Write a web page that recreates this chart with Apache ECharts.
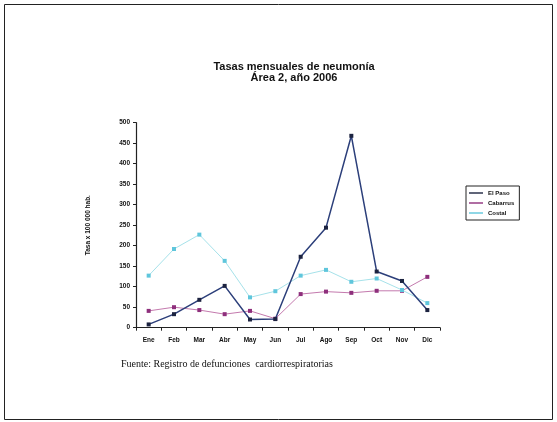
<!DOCTYPE html>
<html>
<head>
<meta charset="utf-8">
<script src="https://cdn.jsdelivr.net/npm/echarts@6/dist/echarts.min.js"></script>
<style>
  html, body { margin: 0; padding: 0; background: #fff; }
  #chart { width: 557px; height: 422px; }
</style>
</head>
<body>
<div id="chart"></div>
<script>
// Monthly pneumonia rates per 100 000 inhabitants
const months = ['Ene', 'Feb', 'Mar', 'Abr', 'May', 'Jun', 'Jul', 'Ago', 'Sep', 'Oct', 'Nov', 'Dic'];
const elPaso   = [8, 33, 68, 102, 20, 21, 173, 244, 468, 137, 114, 43];
const cabarrus = [41, 50, 43, 33, 41, 22, 82, 88, 85, 90, 90, 124];
const costal   = [127, 192, 227, 163, 74, 89, 127, 141, 112, 120, 92, 60];
const yTicks   = [0, 50, 100, 150, 200, 250, 300, 350, 400, 450, 500];

const chart = echarts.init(document.getElementById('chart'), null, { renderer: 'canvas' });

const axisFont = { fontFamily: 'Liberation Sans', fontWeight: 'bold', fontSize: 6.5, color: '#111' };

function lineSeries(name, data, lineColor, markColor, width) {
  return {
    name: name,
    type: 'line',
    data: data,
    symbol: 'rect',
    symbolSize: 4,
    lineStyle: { color: lineColor, width: width },
    itemStyle: { color: markColor },
    emphasis: { disabled: true },
    z: name === 'El Paso' ? 4 : 3
  };
}

chart.setOption({
  animation: false,
  backgroundColor: '#fff',
  title: {
    text: 'Tasas mensuales de neumonía\nÁrea 2, año 2006',
    left: 289,
    top: 56,
    textAlign: 'center',
    textStyle: { fontFamily: 'Liberation Sans', fontWeight: 'bold', fontSize: 11, lineHeight: 11, color: '#111' }
  },
  legend: {
    left: 466,
    top: 186,
    orient: 'vertical',
    itemWidth: 14,
    itemHeight: 4,
    itemGap: 4,
    padding: [4, 5, 4, 3],
    borderColor: '#222',
    borderWidth: 1,
    icon: 'path://M0,0 L10,0 L10,1 L0,1 Z',
    textStyle: { fontFamily: 'Liberation Sans', fontWeight: 'bold', fontSize: 6, color: '#111' },
    data: ['El Paso', 'Cabarrus', 'Costal']
  },
  grid: { left: 136, right: 117, top: 122.7, bottom: 94.3 },
  xAxis: {
    type: 'category',
    data: months,
    boundaryGap: true,
    axisLine: { lineStyle: { color: '#222', width: 1.2 } },
    axisTick: { show: true, length: 3, lineStyle: { color: '#222' } },
    axisLabel: Object.assign({ margin: 9, interval: 0 }, axisFont),
    splitLine: { show: false }
  },
  yAxis: {
    type: 'value',
    min: yTicks[0],
    max: yTicks[yTicks.length - 1],
    interval: 50,
    name: 'Tasa x 100 000 hab.',
    nameLocation: 'middle',
    nameGap: 44,
    nameRotate: 90,
    nameTextStyle: { fontFamily: 'Liberation Sans', fontWeight: 'bold', fontSize: 6.5, color: '#111' },
    axisLine: { show: true, lineStyle: { color: '#222', width: 1.2 } },
    axisTick: { show: true, length: 3, lineStyle: { color: '#222' } },
    axisLabel: Object.assign({ margin: 6 }, axisFont),
    splitLine: { show: false }
  },
  series: [
    lineSeries('El Paso', elPaso, '#2c3f7a', '#1c2340', 1.5),
    lineSeries('Cabarrus', cabarrus, '#c47aae', '#8e2f7c', 1),
    lineSeries('Costal', costal, '#a6e2ea', '#5fc6dc', 1)
  ],
  graphic: [
    {
      type: 'rect',
      shape: { x: 4.5, y: 4.5, width: 548, height: 415 },
      style: { fill: 'none', stroke: '#222', lineWidth: 1 },
      silent: true
    },
    {
      type: 'text',
      left: 121,
      top: 359,
      style: {
        text: 'Fuente: Registro de defunciones  cardiorrespiratorias',
        font: '10px "Liberation Serif"',
        fill: '#111'
      }
    }
  ]
});
</script>
</body>
</html>
